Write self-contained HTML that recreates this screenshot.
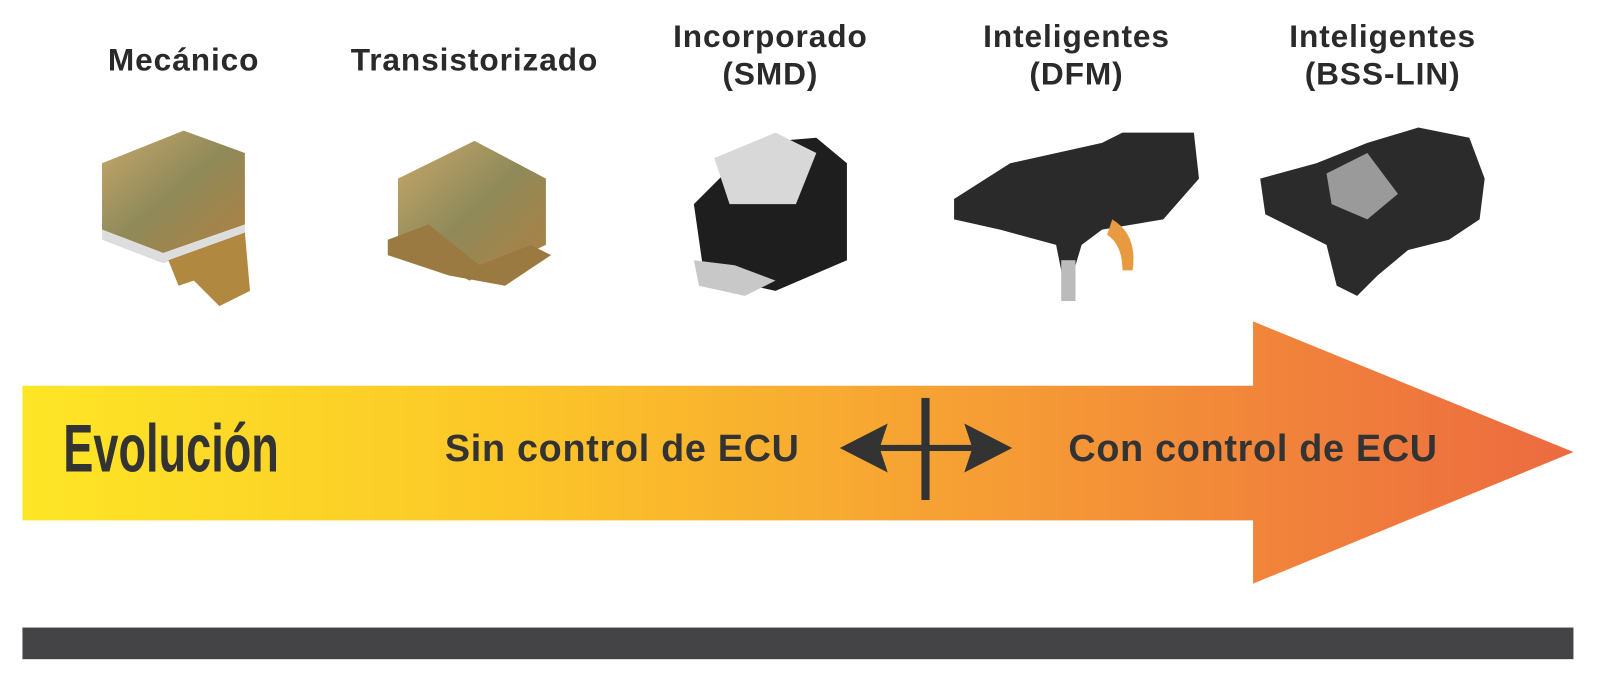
<!DOCTYPE html>
<html><head><meta charset="utf-8"><style>
html,body{margin:0;padding:0;background:#fff;width:1600px;height:690px;overflow:hidden;font-family:"Liberation Sans",sans-serif}
#w{position:absolute;left:0;top:0;width:1568px;height:676px;transform:scale(1.0204);transform-origin:0 0}
.t{position:absolute;font-weight:bold;font-size:31px;letter-spacing:0.9px;color:#2a2a2a;text-align:center;line-height:37px;white-space:nowrap}
</style></head><body><div id="w">
<svg width="1568" height="676" style="position:absolute;left:0;top:0">
<defs>
<linearGradient id="g" x1="22" y1="0" x2="1542" y2="0" gradientUnits="userSpaceOnUse">
<stop offset="0" stop-color="#fde626"/><stop offset="0.3" stop-color="#fcc828"/><stop offset="0.6" stop-color="#f6a034"/><stop offset="1" stop-color="#ec6a40"/>
</linearGradient>
<linearGradient id="gold" x1="0" y1="0" x2="1" y2="1"><stop offset="0" stop-color="#c9a86a"/><stop offset="0.5" stop-color="#8f8a5a"/><stop offset="1" stop-color="#b08040"/></linearGradient>
</defs>
<polygon points="22,378 1228,378 1228,315 1542,443 1228,572 1228,510 22,510" fill="url(#g)"/>
<rect x="22" y="615" width="1520" height="31" fill="#444446"/>
<rect x="903" y="390" width="8" height="100" fill="#333"/>
<rect x="845" y="436" width="125" height="6" fill="#333"/>
<polygon points="823,439 870,415 862,439 870,463" fill="#333"/>
<polygon points="992,439 945,415 953,439 945,463" fill="#333"/>
<polygon points="100,160 180,128 240,150 240,220 160,248 100,225" fill="url(#gold)"/>
<polygon points="100,225 160,248 240,220 240,230 160,258 100,235" fill="#ddd"/>
<polygon points="165,255 240,228 245,285 215,300 190,275 175,280" fill="#b0883f"/>
<polygon points="390,175 465,138 535,175 535,240 460,275 390,235" fill="url(#gold)"/>
<polygon points="380,235 420,220 470,260 520,240 540,250 495,280 440,270 380,250" fill="#9a7a40"/>
<polygon points="680,200 740,140 800,135 830,160 830,255 760,285 690,270" fill="#1e1e1e"/>
<polygon points="700,155 760,130 800,150 780,200 715,200" fill="#d8d8d8"/>
<polygon points="680,255 720,260 760,275 730,290 685,280" fill="#c8c8c8"/>
<polygon points="935,195 990,160 1080,140 1100,130 1170,130 1175,175 1140,215 1080,225 1060,240 1045,290 1035,240 980,225 935,215" fill="#2a2a2a"/>
<rect x="1040" y="255" width="14" height="40" fill="#bbb"/>
<path d="M1090 215 q25 15 20 50 l-10 0 q0 -25 -15 -35 z" fill="#e89a40"/>
<polygon points="1235,175 1290,160 1340,140 1390,125 1440,135 1455,175 1450,215 1420,235 1380,245 1350,270 1330,290 1310,280 1300,240 1240,210" fill="#2b2b2b"/>
<polygon points="1300,170 1340,150 1370,190 1340,215 1305,200" fill="#9a9a9a"/>
</svg>
<div class="t" style="left:60px;top:40px;width:240px">Mecánico</div>
<div class="t" style="left:330px;top:40px;width:270px">Transistorizado</div>
<div class="t" style="left:635px;top:17px;width:240px">Incorporado<br>(SMD)</div>
<div class="t" style="left:935px;top:17px;width:240px">Inteligentes<br>(DFM)</div>
<div class="t" style="left:1235px;top:17px;width:240px">Inteligentes<br>(BSS-LIN)</div>
<div style="position:absolute;left:62px;top:404px;font-size:66px;font-weight:bold;color:#333;transform:scaleX(0.67);transform-origin:0 0;line-height:70px;white-space:nowrap">Evolución</div>
<div style="position:absolute;left:436px;top:419px;font-size:37px;letter-spacing:0.7px;font-weight:bold;color:#333;line-height:42px;white-space:nowrap">Sin control de ECU</div>
<div style="position:absolute;left:1047px;top:419px;font-size:37px;letter-spacing:0.7px;font-weight:bold;color:#333;line-height:42px;white-space:nowrap">Con control de ECU</div>
</div></body></html>
